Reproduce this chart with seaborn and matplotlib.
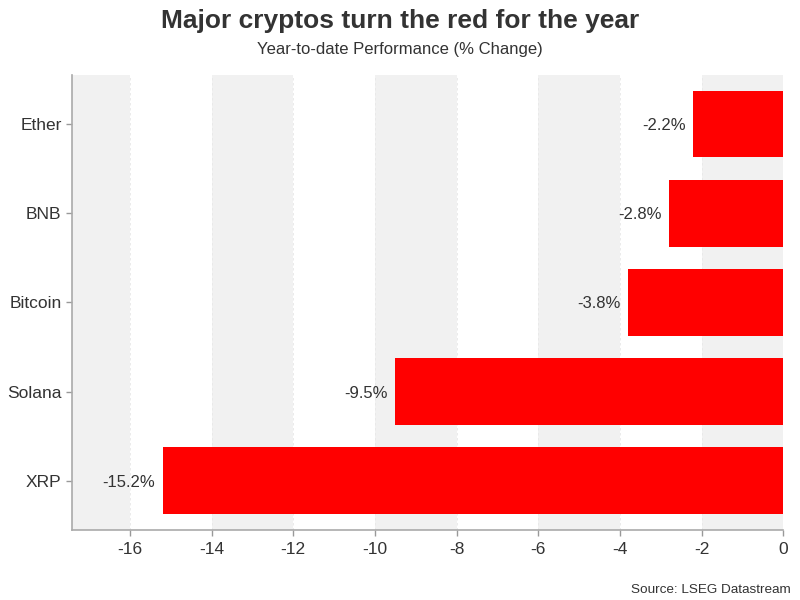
import matplotlib
matplotlib.use("Agg")
import matplotlib.pyplot as plt
import seaborn as sns
import pandas as pd

cryptos = ["Ether", "BNB", "Bitcoin", "Solana", "XRP"]
ytd_change = [-2.2, -2.8, -3.8, -9.5, -15.2]
x_ticks = [-16, -14, -12, -10, -8, -6, -4, -2, 0]

sns.set_theme(style="white")
plt.rcParams["font.family"] = ["Liberation Sans", "DejaVu Sans"]

df = pd.DataFrame({"crypto": cryptos, "change": ytd_change})

fig = plt.figure(figsize=(8, 6), dpi=100)
ax = fig.add_axes([0.09, 0.117, 0.889, 0.758])

xmin = -17.42
# alternating background bands
edges = [xmin] + x_ticks
for i in range(len(edges) - 1):
    if i % 2 == 0:
        ax.axvspan(edges[i], edges[i + 1], color="#f1f1f1", zorder=0, lw=0)
for t in x_ticks:
    ax.axvline(t, color="#e8e8e8", lw=0.6, ls=(0, (3, 3)), zorder=0.5)

sns.barplot(data=df, x="change", y="crypto", orient="h", color="#ff0000",
            saturation=1, width=0.75, linewidth=0, edgecolor="none",
            ax=ax, zorder=2)

for i, v in enumerate(ytd_change):
    ax.text(v - 0.18, i, f"{v:.1f}%", ha="right", va="center_baseline",
            fontsize=12, color="#333333")

ax.set_xlim(xmin, 0)
ax.set_ylim(4.55, -0.55)
ax.set_xticks(x_ticks)
ax.set_xticklabels([str(t) for t in x_ticks])
ax.set_xlabel("")
ax.set_ylabel("")
ax.tick_params(axis="both", colors="#999999", labelcolor="#333333",
               labelsize=12.5, length=4, width=1, bottom=True, left=True)
ax.tick_params(axis="x", pad=5)
for s in ["top", "right"]:
    ax.spines[s].set_visible(False)
for s in ["left", "bottom"]:
    ax.spines[s].set_color("#aaaaaa")
    ax.spines[s].set_linewidth(1.2)

fig.text(0.5, 0.965, "Major cryptos turn the red for the year", ha="center",
         va="center", fontsize=19, fontweight="bold", color="#333333")
fig.text(0.5, 0.917, "Year-to-date Performance (% Change)", ha="center",
         va="center", fontsize=12, color="#333333")
fig.text(0.988, 0.017, "Source: LSEG Datastream", ha="right", va="center",
         fontsize=9.7, color="#333333")

fig.savefig("out.png", dpi=100)
